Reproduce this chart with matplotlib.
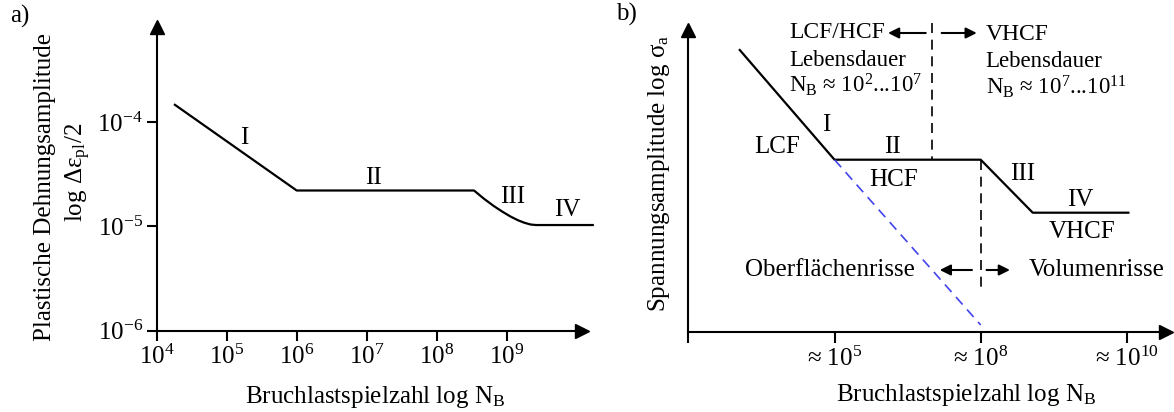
import matplotlib
matplotlib.use("Agg")
import matplotlib.pyplot as plt
import numpy as np

plt.rcParams['font.family'] = ['Liberation Serif', 'DejaVu Serif']
plt.rcParams['mathtext.fontset'] = 'custom'
plt.rcParams['mathtext.rm'] = 'Liberation Serif'
plt.rcParams['mathtext.it'] = 'Liberation Serif:italic'
plt.rcParams['mathtext.bf'] = 'Liberation Serif:bold'

# panel a: log10 of cycles / log10 of plastic strain amplitude
a_logN = [4.26, 6.0, 8.533, 8.679, 8.813, 8.94, 9.054, 9.161, 9.256, 9.343, 9.419, 10.23]
a_logE = [-3.83, -4.654, -4.654, -4.735, -4.802, -4.858, -4.904, -4.94, -4.965, -4.981, -4.986, -4.986]
a_xexp = [4, 5, 6, 7, 8, 9]
a_yexp = [-6, -5, -4]
a_regions = ['I', 'II', 'III', 'IV']
a_reg_logN = [5.25, 7.09, 9.09, 9.86]
a_reg_logE = [-4.15, -4.53, -4.72, -4.84]

# panel b: schematic positions (not to scale)
b_u = [0.352, 1.0, 2.0, 2.356, 3.01]
b_v = [2.817, 1.72, 1.72, 1.19, 1.19]
b_ext_u = [1.0, 2.0]
b_ext_v = [1.72, 0.067]
b_ticks = [0, 1, 2, 3]
b_ticklabels = ['', '≈ 10$^{5}$', '≈ 10$^{8}$', '≈ 10$^{10}$']

W, H = 1174, 412
fig = plt.figure(figsize=(W / 100, H / 100), dpi=100)


def fx(px):
    return px / W


def fy(py):
    return (H - py) / H


def arrows(ax):
    ax.plot(1, 0, '>k', ms=10, transform=ax.transAxes, clip_on=False)
    ax.plot(0, 1, '^k', ms=10, transform=ax.transAxes, clip_on=False)


# ---------------- panel a ----------------
ax1 = fig.add_axes([fx(156.7), fy(330.5), fx(582 - 156.7), (330.5 - 27) / H])
ax1.set_xscale('log')
ax1.set_yscale('log')
ax1.plot(10 ** np.array(a_logN), 10 ** np.array(a_logE), color='k', lw=1.6, clip_on=False)
ax1.set_xlim(1e4, 10 ** 10.076)
ax1.set_ylim(1e-6, 10 ** -3.082)
for s in ['top', 'right']:
    ax1.spines[s].set_visible(False)
for s in ['left', 'bottom']:
    ax1.spines[s].set_linewidth(1.5)
ax1.minorticks_off()
ax1.set_xticks([10.0 ** e for e in a_xexp])
ax1.set_xticklabels(['10$^{%d}$' % e for e in a_xexp])
ax1.set_yticks([10.0 ** e for e in a_yexp])
ax1.set_yticklabels(['10$^{%d}$' % e for e in a_yexp])
ax1.tick_params(direction='out', length=7, width=1.5, labelsize=18, pad=3)
ax1.tick_params(axis='x', which='minor', bottom=False)
ax1.tick_params(axis='y', which='minor', left=False)
arrows(ax1)
for lab, xn, ye in zip(a_regions, a_reg_logN, a_reg_logE):
    ax1.text(10 ** xn, 10 ** ye, lab, fontsize=18, ha='center', va='center')

fig.text(fx(45), fy(187), 'Plastische Dehnungsamplitude', rotation=90,
         fontsize=18, ha='center', va='center')
fig.text(fx(78), fy(172), r'log Δε$_{\mathrm{pl}}$/2', rotation=90,
         fontsize=18, ha='center', va='center')
fig.text(fx(375), fy(396.7), r'Bruchlastspielzahl log N$_{\mathrm{B}}$',
         fontsize=18, ha='center', va='center')
fig.text(fx(10), fy(16), 'a)', fontsize=18, ha='left', va='center')

# ---------------- panel b ----------------
ax2 = fig.add_axes([fx(688.3), fy(331.7), fx(1166 - 688.3), (331.7 - 30) / H])
ax2.plot(b_u, b_v, color='k', lw=1.6, clip_on=False)
ax2.plot(b_ext_u, b_ext_v, color='#4444ee', lw=1.2, dashes=(6, 4))
ax2.set_xlim(0, (1166 - 688.3) / 146.2)
ax2.set_ylim(0, 3.017)
for s in ['top', 'right']:
    ax2.spines[s].set_visible(False)
for s in ['left', 'bottom']:
    ax2.spines[s].set_linewidth(1.5)
ax2.set_xticks(b_ticks)
ax2.set_xticklabels(b_ticklabels)
ax2.set_yticks([])
ax2.tick_params(axis='x', direction='out', length=8, width=1.5, labelsize=18, pad=3)
arrows(ax2)

# vertical dashed separators
ax2.plot([1.669, 1.669], [3.087, 1.72], color='k', lw=1.2, dashes=(6, 4), clip_on=False)
ax2.plot([2.0, 2.0], [1.72, 0.42], color='k', lw=1.2, dashes=(6, 4))

arr = dict(arrowstyle='-|>', color='k', lw=1.5, mutation_scale=16, shrinkA=0, shrinkB=0)
ax2.annotate('', xy=(1.366, 2.987), xytext=(1.624, 2.987), arrowprops=arr, annotation_clip=False)
ax2.annotate('', xy=(1.973, 2.987), xytext=(1.733, 2.987), arrowprops=arr, annotation_clip=False)
ax2.annotate('', xy=(1.72, 0.617), xytext=(1.94, 0.617), arrowprops=arr)
ax2.annotate('', xy=(2.2, 0.617), xytext=(2.04, 0.617), arrowprops=arr)

ax2.text(0.688, 2.987, 'LCF/HCF', fontsize=17, ha='left', va='center')
ax2.text(0.688, 2.717, 'Lebensdauer', fontsize=16.5, ha='left', va='center')
ax2.text(0.688, 2.467, 'N$_{\\mathrm{B}}$ ≈ 10$^{2}$...10$^{7}$', fontsize=16.5, ha='left', va='center')
ax2.text(2.034, 2.967, 'VHCF', fontsize=17, ha='left', va='center')
ax2.text(2.034, 2.70, 'Lebensdauer', fontsize=16.5, ha='left', va='center')
ax2.text(2.034, 2.447, 'N$_{\\mathrm{B}}$ ≈ 10$^{7}$...10$^{11}$', fontsize=16.5, ha='left', va='center')

ax2.text(0.941, 2.067, 'I', fontsize=18, ha='center', va='center')
ax2.text(0.605, 1.85, 'LCF', fontsize=18, ha='center', va='center')
ax2.text(1.398, 1.85, 'II', fontsize=18, ha='center', va='center')
ax2.text(1.407, 1.517, 'HCF', fontsize=18, ha='center', va='center')
ax2.text(2.289, 1.577, 'III', fontsize=18, ha='center', va='center')
ax2.text(2.679, 1.317, 'IV', fontsize=18, ha='center', va='center')
ax2.text(2.691, 1.0, 'VHCF', fontsize=18, ha='center', va='center')
ax2.text(1.55, 0.617, 'Oberflächenrisse', fontsize=18, ha='right', va='center')
ax2.text(2.33, 0.617, 'Volumenrisse', fontsize=18, ha='left', va='center')

fig.text(fx(659.5), fy(173), r'Spannungsamplitude log σ$_{\mathrm{a}}$', rotation=90,
         fontsize=18, ha='center', va='center')
fig.text(fx(966), fy(395), r'Bruchlastspielzahl log N$_{\mathrm{B}}$',
         fontsize=18, ha='center', va='center')
fig.text(fx(616), fy(14), 'b)', fontsize=18, ha='left', va='center')

fig.savefig('out.png', dpi=100)
